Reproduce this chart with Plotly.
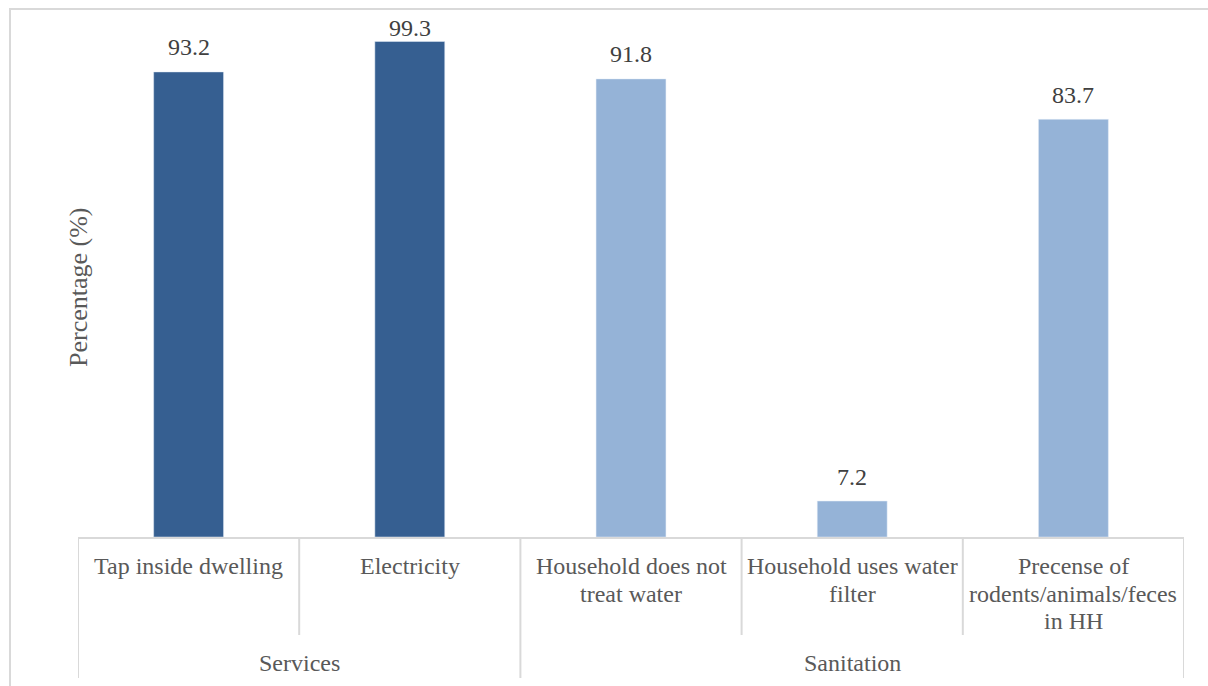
import plotly.graph_objects as go

# Survey results: household services and sanitation indicators (%)
groups = ["Services", "Services", "Sanitation", "Sanitation", "Sanitation"]
categories = [
    "Tap inside dwelling",
    "Electricity",
    "Household does not<br>treat water",
    "Household uses water<br>filter",
    "Precense of<br>rodents/animals/feces<br>in HH",
]
values = [93.2, 99.3, 91.8, 7.2, 83.7]
group_order = ["Services", "Sanitation"]
y_title = "Percentage (%)"

# Page geometry (pixels)
W, H = 1208, 686
M_L, M_R, M_T, M_B = 78, 24, 38, 149
PLOT_W = W - M_L - M_R
PLOT_H = H - M_T - M_B

SERIF = "Liberation Serif"
GRID = "#d9d9d9"
LABEL_C = "#595959"
VALUE_C = "#404040"
group_color = {"Services": "#365F91", "Sanitation": "#95B3D7"}


def px_x(px):
    """Page x pixel -> paper coordinate."""
    return (px - M_L) / PLOT_W


def px_y(py):
    """Page y pixel (from top) -> paper coordinate."""
    return (H - M_B - py) / PLOT_H


fig = go.Figure(go.Bar(
    x=list(range(len(categories))),
    y=values,
    marker_color=[group_color[g] for g in groups],
))

# value labels above the bars, kept inside the chart frame
for i, v in enumerate(values):
    bar_top = M_T + (1 - v / 100) * PLOT_H
    fig.add_annotation(
        x=i, y=v, xref="x", yref="y", text=f"{v:.1f}", showarrow=False,
        yanchor="middle", yshift=min(24.5, bar_top - 28),
        font=dict(family=SERIF, size=24, color=VALUE_C),
    )

# inner category labels, one line at a time for tight line spacing
for i, lab in enumerate(categories):
    for j, line in enumerate(lab.split("<br>")):
        fig.add_annotation(
            x=i, y=0, xref="x", yref="paper", text=line, showarrow=False,
            yanchor="middle", yshift=-29 - 27.6 * j,
            font=dict(family=SERIF, size=24, color=LABEL_C),
        )

# outer group labels
spans = {}
for i, g in enumerate(groups):
    spans.setdefault(g, []).append(i)
for g in group_order:
    idx = spans[g]
    fig.add_annotation(
        x=(idx[0] + idx[-1]) / 2, y=0, xref="x", yref="paper", text=g,
        showarrow=False, yanchor="middle", yshift=-126,
        font=dict(family=SERIF, size=24, color=LABEL_C),
    )

# y-axis title
fig.add_annotation(
    x=px_x(62), y=0.5, xref="paper", yref="paper", text=y_title,
    showarrow=False, textangle=-90,
    font=dict(family=SERIF, size=26, color=LABEL_C),
)

# dividers of the two-level category axis
group_edges = set()
for g in group_order:
    group_edges.add(spans[g][0] - 0.5)
    group_edges.add(spans[g][-1] + 0.5)
for k in range(len(categories) + 1):
    xe = k - 0.5
    bottom = 678 if xe in group_edges else 635
    fig.add_shape(
        type="line", xref="x", yref="paper", x0=xe, x1=xe,
        y0=0, y1=px_y(bottom), line=dict(color=GRID, width=2),
    )

# chart frame
fig.add_shape(
    type="rect", xref="paper", yref="paper",
    x0=px_x(10), x1=px_x(1230), y0=px_y(720), y1=px_y(9),
    line=dict(color=GRID, width=2),
)

fig.update_layout(
    width=W, height=H,
    margin=dict(l=M_L, r=M_R, t=M_T, b=M_B, autoexpand=False),
    paper_bgcolor="white", plot_bgcolor="white",
    font=dict(family=SERIF, size=24, color=LABEL_C),
    bargap=0.684,
    showlegend=False,
    xaxis=dict(
        range=[-0.5, len(categories) - 0.5], tickvals=[], showgrid=False,
        zeroline=False, showline=True, linecolor=GRID, linewidth=2,
        ticks="",
    ),
    yaxis=dict(
        range=[0, 100], tickvals=[], showgrid=False, zeroline=False,
        showline=False, ticks="",
    ),
)

fig.write_html("out.html")
